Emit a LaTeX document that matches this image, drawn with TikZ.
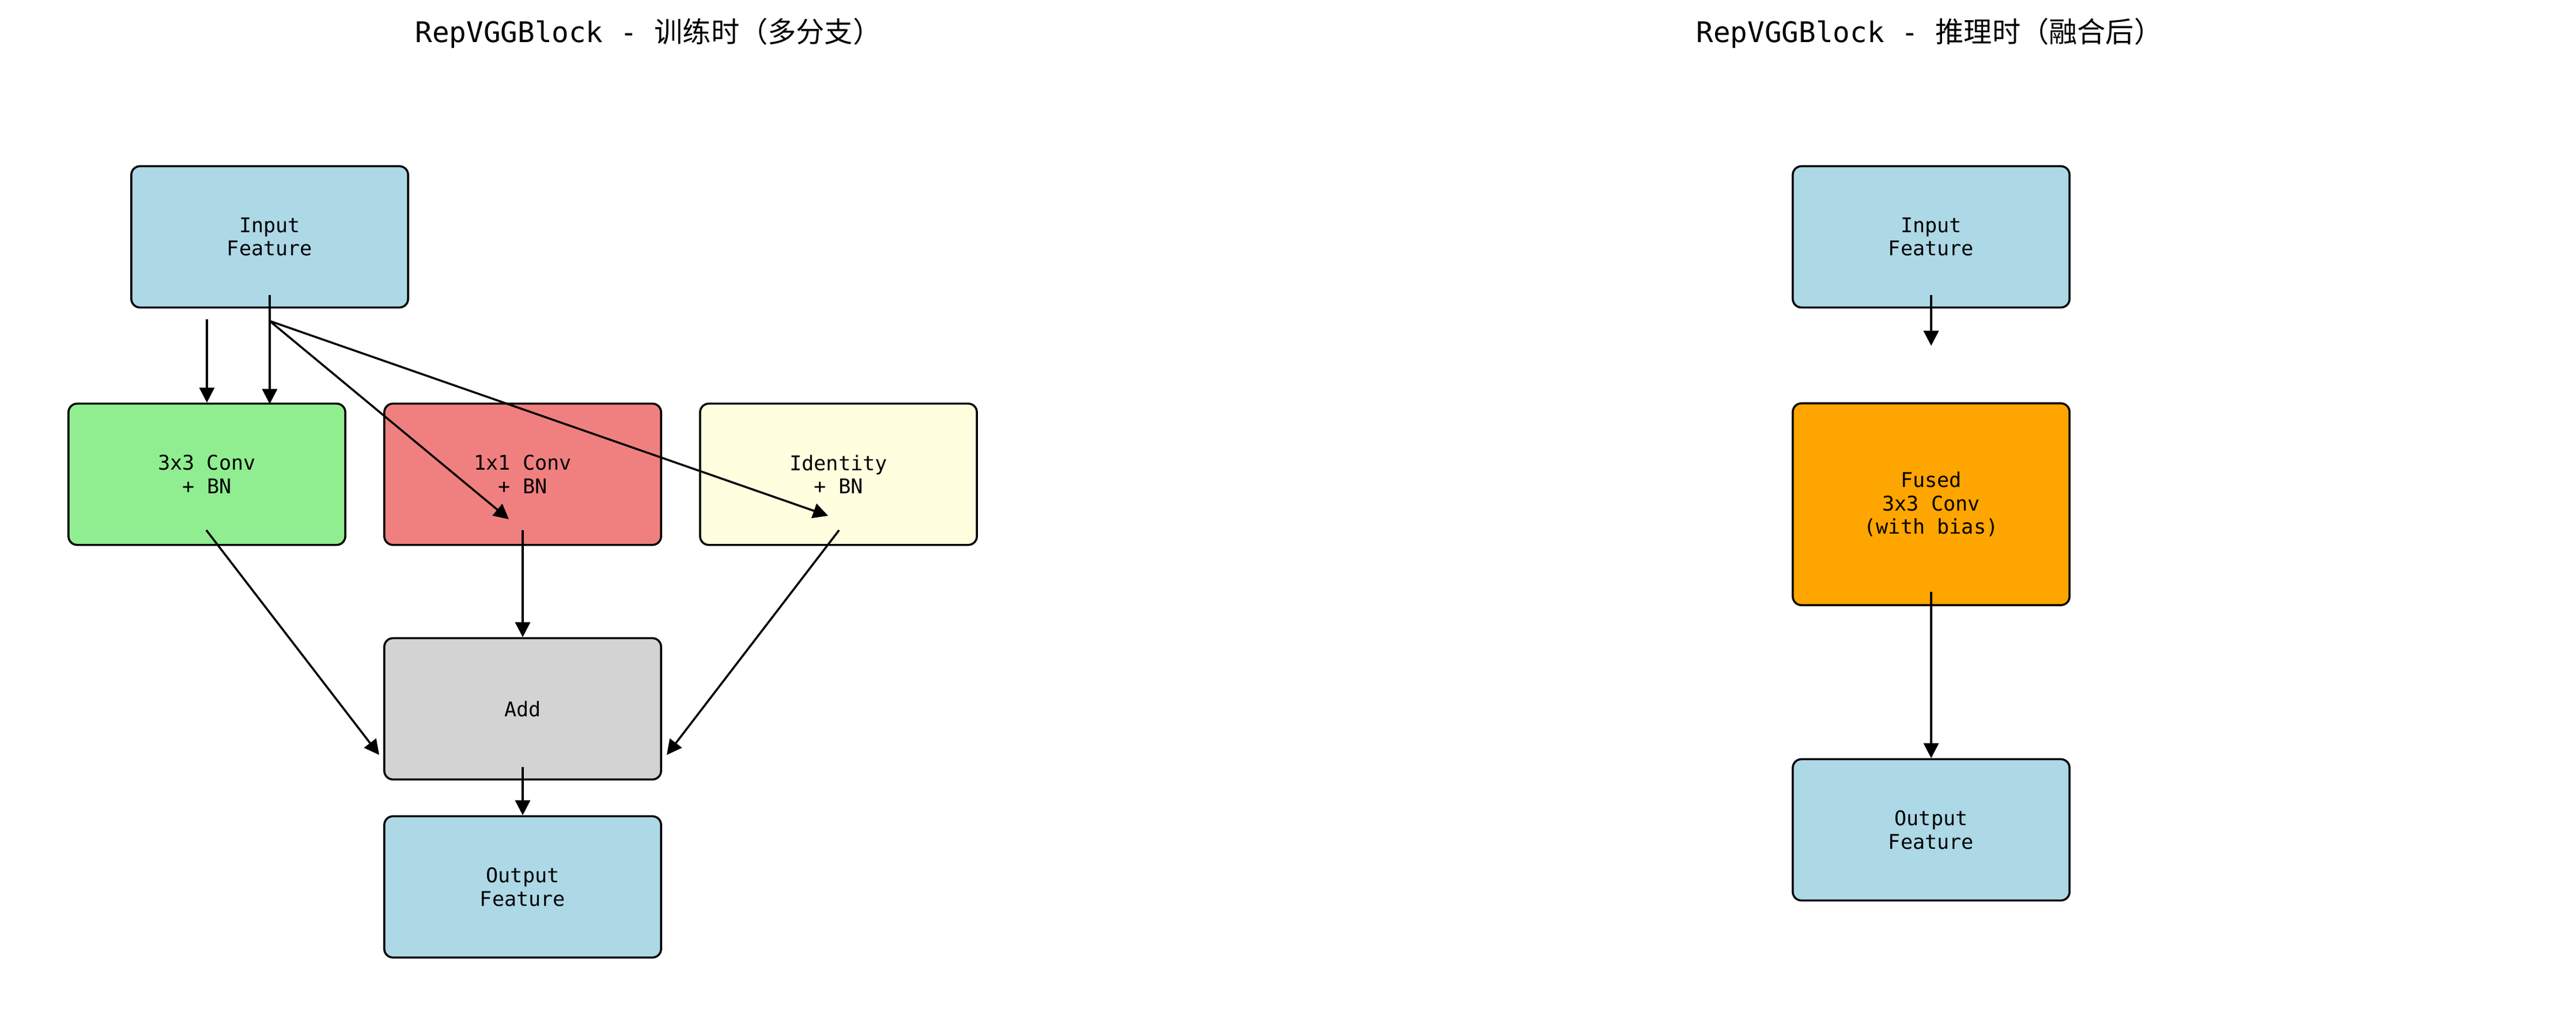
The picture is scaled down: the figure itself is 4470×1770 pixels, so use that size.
\documentclass[tikz,border=0pt]{standalone}
\usepackage{fontspec}
\setmainfont{DejaVu Sans Mono}
\newfontfamily\cjk{Noto Sans CJK SC}
\usetikzlibrary{arrows.meta}

\definecolor{inblue}{HTML}{ADD8E6}
\definecolor{convgreen}{HTML}{90EE90}
\definecolor{convred}{HTML}{F08080}
\definecolor{idyellow}{HTML}{FFFFE0}
\definecolor{addgray}{HTML}{D3D3D3}
\definecolor{fusedorange}{HTML}{FFA500}

\tikzset{
  blockbox/.style={draw=black, line width=1pt, rounded corners=0.15cm, align=center,
    minimum width=4.8cm, minimum height=2.45cm, inner sep=0pt,
    font=\fontsize{10}{11.5}\selectfont},
  titletext/.style={font=\fontsize{14}{17}\selectfont},
  flow/.style={line width=1pt, -{Triangle[length=0.26cm,width=0.26cm]}}
}

\begin{document}
\begin{tikzpicture}[x=0.01cm, y=-0.01cm]
    \useasboundingbox (0,0) rectangle (4470,1770);
    % titles
    \node[titletext] (ttrain) at (1125,58) {RepVGGBlock - {\cjk 训练时（多分支）}};
    \node[titletext] (tinfer) at (3348,58) {RepVGGBlock - {\cjk 推理时（融合后）}};

    % training: multi-branch
    \node[blockbox, fill=inblue] (in) at (468,411) {Input\\Feature};
    \node[blockbox, fill=convgreen] (c3) at (359,823) {3x3 Conv\\+ BN};
    \node[blockbox, fill=convred] (c1) at (907,823) {1x1 Conv\\+ BN};
    \node[blockbox, fill=idyellow] (id) at (1455,823) {Identity\\+ BN};
    \node[blockbox, fill=addgray] (add) at (907,1230) {Add};
    \node[blockbox, fill=inblue] (out) at (907,1539) {Output\\Feature};

    \coordinate (in-a) at (359,554);
    \coordinate (in-b) at (468,512);
    \coordinate (in-c) at (468,557);
    \coordinate (c3-top) at (468,701);
    \coordinate (c1-in) at (883,901);
    \coordinate (id-in) at (1437,895);
    \coordinate (c3-out) at (358,920);
    \coordinate (c1-out) at (907,920);
    \coordinate (id-out) at (1456,920);
    \coordinate (add-l) at (658,1310);
    \coordinate (add-r) at (1157,1310);
    \coordinate (add-out) at (907,1331);

    \draw [flow] (in-a) -- (c3.north);
    \draw [flow] (in-b) -- (c3-top);
    \draw [flow] (in-c) -- (c1-in);
    \draw [flow] (in-c) -- (id-in);
    \draw [flow] (c3-out) -- (add-l);
    \draw [flow] (c1-out) -- (add.north);
    \draw [flow] (id-out) -- (add-r);
    \draw [flow] (add-out) -- (out.north);

    % inference: fused
    \node[blockbox, fill=inblue] (rin) at (3351,411) {Input\\Feature};
    \node[blockbox, fill=fusedorange, minimum height=3.5cm] (fused) at (3351,875) {Fused\\3x3 Conv\\(with bias)};
    \node[blockbox, fill=inblue] (rout) at (3351,1440) {Output\\Feature};

    \coordinate (rin-out) at (3351,512);
    \coordinate (rin-end) at (3351,600);
    \coordinate (fused-out) at (3351,1027);

    \draw [flow] (rin-out) -- (rin-end);
    \draw [flow] (fused-out) -- (rout.north);
\end{tikzpicture}
\end{document}
